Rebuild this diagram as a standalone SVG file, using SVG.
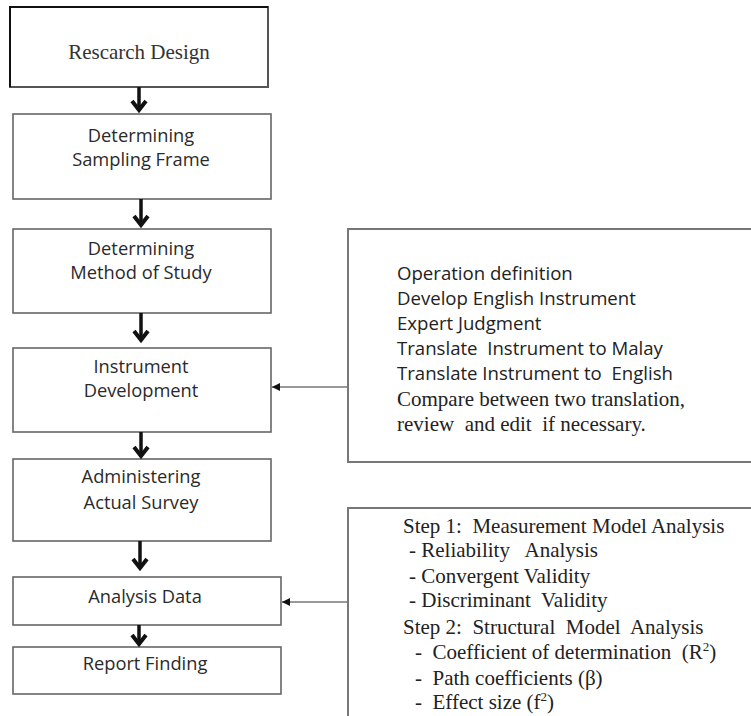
<svg xmlns="http://www.w3.org/2000/svg" width="751" height="716" viewBox="0 0 751 716">
<defs>
<style>
.box{fill:#fff;stroke:#666;stroke-width:1.6}
.sbox{fill:#fff;stroke:#777;stroke-width:2}
.lbl{font-family:"Open Sans","Liberation Sans",sans-serif;font-size:18.3px;fill:#2a2a2a;text-anchor:middle}
.cal{font-family:"Open Sans","Liberation Sans",sans-serif;font-size:18.6px;fill:#222}
.tms{font-family:"Liberation Serif","Times New Roman",serif;font-size:21px;fill:#222}
.flow{fill:none;stroke:#111;stroke-width:3.5}
.head{fill:none;stroke:#111;stroke-width:4;stroke-linejoin:miter;stroke-linecap:butt}
.conn{fill:none;stroke:#777;stroke-width:1.6}
</style>
<marker id="tri" viewBox="0 0 10 10" refX="10" refY="5" markerWidth="10" markerHeight="8" markerUnits="userSpaceOnUse" orient="auto">
<path d="M0,0 L10,5 L0,10 z" fill="#111"/>
</marker>
</defs>

<g id="research-design">
<rect x="10" y="7" width="258" height="80" fill="#fff" stroke="#555" stroke-width="2"/>
<path d="M10,87 V7 H268" fill="none" stroke="#111" stroke-width="2"/>
<text x="139" y="59" text-anchor="middle" style="font-family:'Liberation Serif','Times New Roman',serif;font-size:21px;fill:#333">Rescarch Design</text>
</g>

<g id="sampling-frame">
<rect class="box" x="13" y="114" width="258" height="85"/>
<text class="lbl" x="141" y="142">Determining</text>
<text class="lbl" x="141" y="166">Sampling Frame</text>
</g>

<g id="method-of-study">
<rect class="box" x="13" y="229" width="258" height="84"/>
<text class="lbl" x="141" y="255">Determining</text>
<text class="lbl" x="141" y="279">Method of Study</text>
</g>

<g id="instrument-development">
<rect class="box" x="13" y="348" width="258" height="84"/>
<text class="lbl" x="141" y="373">Instrument</text>
<text class="lbl" x="141" y="397">Development</text>
</g>

<g id="actual-survey">
<rect class="box" x="13" y="459" width="258" height="82"/>
<text class="lbl" x="141" y="483">Administering</text>
<text class="lbl" x="141" y="509">Actual Survey</text>
</g>

<g id="analysis-data">
<rect class="box" x="13" y="577" width="268" height="48"/>
<text class="lbl" x="145" y="603">Analysis Data</text>
</g>

<g id="report-finding">
<rect class="box" x="13" y="647" width="268" height="47"/>
<text class="lbl" x="145" y="670">Report Finding</text>
</g>

<g id="instrument-steps">
<rect class="sbox" x="348" y="229" width="420" height="233"/>
<text class="cal" x="397" y="280">Operation definition</text>
<text class="cal" x="397" y="305">Develop English Instrument</text>
<text class="cal" x="397" y="330">Expert Judgment</text>
<text class="cal" x="397" y="355" xml:space="preserve">Translate  Instrument to Malay</text>
<text class="cal" x="397" y="380" xml:space="preserve">Translate Instrument to  English</text>
<text class="tms" x="397" y="406">Compare between two translation,</text>
<text class="tms" x="397" y="431" xml:space="preserve">review  and edit  if necessary.</text>
</g>

<g id="analysis-steps">
<rect class="sbox" x="348" y="508" width="420" height="230"/>
<text class="tms" x="403" y="533" xml:space="preserve">Step 1:  Measurement Model Analysis</text>
<text class="tms" x="409" y="557" xml:space="preserve">- Reliability   Analysis</text>
<text class="tms" x="409" y="583">- Convergent Validity</text>
<text class="tms" x="409" y="607" xml:space="preserve">- Discriminant  Validity</text>
<text class="tms" x="403" y="634" xml:space="preserve">Step 2:  Structural  Model  Analysis</text>
<text class="tms" x="415" y="659" xml:space="preserve">-  Coefficient of determination  (R<tspan dy="-8" font-size="13">2</tspan><tspan dy="8">)</tspan></text>
<text class="tms" x="415" y="685" xml:space="preserve">-  Path coefficients (β)</text>
<text class="tms" x="415" y="709" xml:space="preserve">-  Effect size (f<tspan dy="-8" font-size="13">2</tspan><tspan dy="8">)</tspan></text>
</g>

<g id="connectors">
<line class="flow" x1="139" y1="87" x2="139" y2="110"/>
<polyline class="head" points="132,101 139,110 146,101"/>
<line class="flow" x1="141" y1="199" x2="141" y2="225"/>
<polyline class="head" points="134,216 141,225 148,216"/>
<line class="flow" x1="141" y1="313" x2="141" y2="340"/>
<polyline class="head" points="134,331 141,340 148,331"/>
<line class="flow" x1="141" y1="432" x2="141" y2="456"/>
<polyline class="head" points="134,447 141,456 148,447"/>
<line class="flow" x1="140" y1="541" x2="140" y2="568"/>
<polyline class="head" points="133,559 140,568 147,559"/>
<line class="flow" x1="139" y1="625" x2="139" y2="644"/>
<polyline class="head" points="132,635 139,644 146,635"/>
<line class="conn" x1="348" y1="387" x2="272" y2="387" marker-end="url(#tri)"/>
<line class="conn" x1="348" y1="602" x2="282" y2="602" marker-end="url(#tri)"/>
</g>
</svg>
